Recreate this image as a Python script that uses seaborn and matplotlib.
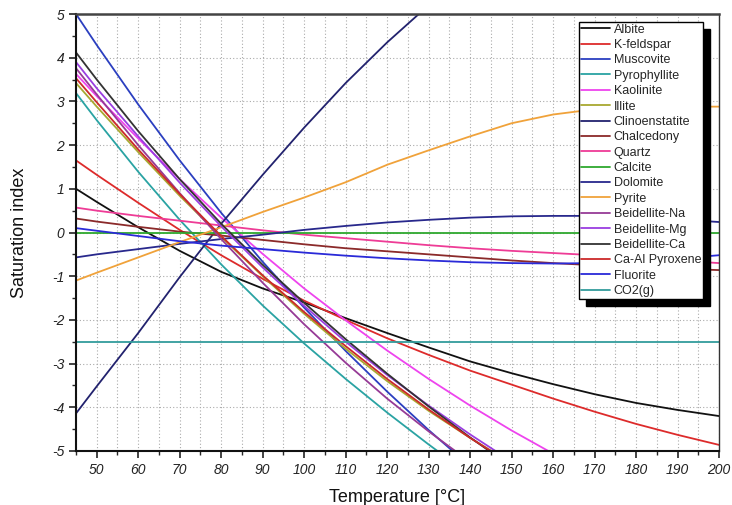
import numpy as np
import pandas as pd
import matplotlib
matplotlib.use("Agg")
import matplotlib.pyplot as plt
import seaborn as sns
from matplotlib.lines import Line2D
from matplotlib.ticker import MultipleLocator

nan = np.nan
temps = [45, 50, 60, 70, 80, 90, 100, 110, 120, 130, 140, 150, 160, 170, 180, 190, 200]

albite = [1.0, 0.7, 0.12, -0.42, -0.9, -1.28, -1.6, -1.96, -2.3, -2.63, -2.95, -3.22, -3.47, -3.7, -3.9, -4.06, -4.2]
k_feldspar = [1.65, 1.32, 0.68, 0.06, -0.52, -1.06, -1.56, -2.0, -2.42, -2.8, -3.16, -3.48, -3.8, -4.1, -4.38, -4.63, -4.86]
muscovite = [5.0, 4.29, 2.93, 1.65, 0.45, -0.67, -1.72, -2.71, -3.64, -4.52, -5.35, nan, nan, nan, nan, nan, nan]
pyrophyllite = [3.19, 2.57, 1.39, 0.29, -0.73, -1.67, -2.54, -3.35, -4.12, -4.85, -5.55, nan, nan, nan, nan, nan, nan]
kaolinite = [3.63, 3.12, 2.15, 1.22, 0.34, -0.49, -1.28, -2.01, -2.7, -3.35, -3.96, -4.53, -5.06, nan, nan, nan, nan]
illite = [3.42, 2.88, 1.84, 0.84, -0.1, -1.0, -1.86, -2.66, -3.4, -4.08, -4.7, -5.28, nan, nan, nan, nan, nan]
clinoenstatite = [-4.14, -3.52, -2.3, -1.02, 0.2, 1.32, 2.4, 3.42, 4.35, 5.2, nan, nan, nan, nan, nan, nan, nan]
chalcedony = [0.32, 0.25, 0.13, 0.02, -0.07, -0.17, -0.27, -0.36, -0.43, -0.5, -0.57, -0.64, -0.7, -0.75, -0.79, -0.83, -0.86]
quartz = [0.57, 0.5, 0.38, 0.27, 0.16, 0.05, -0.05, -0.13, -0.21, -0.29, -0.36, -0.42, -0.47, -0.52, -0.58, -0.64, -0.7]
calcite = [0.0] * 17
dolomite = [-0.57, -0.5, -0.38, -0.26, -0.15, -0.05, 0.06, 0.15, 0.23, 0.29, 0.34, 0.37, 0.38, 0.38, 0.35, 0.3, 0.24]
pyrite = [-1.1, -0.92, -0.57, -0.22, 0.12, 0.47, 0.8, 1.15, 1.55, 1.88, 2.2, 2.5, 2.7, 2.82, 2.87, 2.88, 2.88]
beidellite_na = [3.76, 3.16, 2.0, 0.9, -0.15, -1.15, -2.1, -2.98, -3.8, -4.55, -5.25, nan, nan, nan, nan, nan, nan]
beidellite_mg = [3.9, 3.3, 2.2, 1.14, 0.14, -0.8, -1.68, -2.5, -3.26, -3.96, -4.62, -5.24, nan, nan, nan, nan, nan]
beidellite_ca = [4.12, 3.5, 2.32, 1.22, 0.2, -0.74, -1.61, -2.44, -3.23, -3.98, -4.69, -5.36, nan, nan, nan, nan, nan]
ca_al_pyroxene = [3.53, 2.98, 1.9, 0.88, -0.08, -0.98, -1.82, -2.6, -3.35, -4.05, -4.7, -5.3, nan, nan, nan, nan, nan]
fluorite = [0.1, 0.04, -0.08, -0.2, -0.3, -0.38, -0.46, -0.53, -0.59, -0.64, -0.68, -0.7, -0.71, -0.7, -0.66, -0.6, -0.52]
co2_g = [-2.5] * 17

minerals = ["Albite", "K-feldspar", "Muscovite", "Pyrophyllite", "Kaolinite", "Illite",
            "Clinoenstatite", "Chalcedony", "Quartz", "Calcite", "Dolomite", "Pyrite",
            "Beidellite-Na", "Beidellite-Mg", "Beidellite-Ca", "Ca-Al Pyroxene",
            "Fluorite", "CO2(g)"]
series = [albite, k_feldspar, muscovite, pyrophyllite, kaolinite, illite,
          clinoenstatite, chalcedony, quartz, calcite, dolomite, pyrite,
          beidellite_na, beidellite_mg, beidellite_ca, ca_al_pyroxene,
          fluorite, co2_g]
colors = ["#111111", "#dd2b2b", "#2b3fc0", "#2aa3a3", "#ee44ee", "#a8a830",
          "#22226e", "#8b2a2a", "#ee3c96", "#2ea82e", "#28288c", "#f0a23a",
          "#963a96", "#9a3ee0", "#333333", "#cc2a2a", "#2a2ad8", "#339c9c"]

rows = []
for name, vals in zip(minerals, series):
    for t, v in zip(temps, vals):
        rows.append({"Temperature": t, "SI": v, "Mineral": name})
df = pd.DataFrame(rows).dropna()

sns.set_style("white")
plt.rcParams["font.family"] = ["Liberation Sans", "DejaVu Sans"]

fig = plt.figure(figsize=(7.32, 5.05), dpi=100)
ax = fig.add_axes([76 / 732, 1 - 451 / 505, 643 / 732, 437 / 505])

palette = dict(zip(minerals, colors))
sns.lineplot(data=df, x="Temperature", y="SI", hue="Mineral", hue_order=minerals,
             palette=palette, sort=True, legend=False, linewidth=1.3, ax=ax,
             estimator=None)

ax.set_xlim(45, 200)
ax.set_ylim(-5, 5)
ax.xaxis.set_major_locator(MultipleLocator(10))
ax.xaxis.set_minor_locator(MultipleLocator(5))
ax.yaxis.set_major_locator(MultipleLocator(1))
ax.yaxis.set_minor_locator(MultipleLocator(0.5))
ax.grid(True, which="major", axis="both", color="#aaaaaa", linestyle=(0, (1, 2)), linewidth=0.8)
ax.grid(True, which="minor", axis="x", color="#aaaaaa", linestyle=(0, (1, 2)), linewidth=0.8)
ax.set_axisbelow(True)

ax.tick_params(axis="both", which="major", direction="out", length=5, width=1.2,
               labelsize=10, colors="#222222", bottom=True, left=True)
ax.tick_params(axis="both", which="minor", direction="out", length=3, width=1.0,
               bottom=True, left=True)
ax.set_xticks(list(range(50, 201, 10)))
ax.set_xticklabels([str(v) for v in range(50, 201, 10)], fontstyle="italic")
ax.set_yticks(range(-5, 6))
ax.set_yticklabels([str(v) for v in range(-5, 6)], fontstyle="italic")

for side in ["left", "bottom"]:
    ax.spines[side].set_color("#111111")
    ax.spines[side].set_linewidth(1.5)
ax.spines["top"].set_color("#444444")
ax.spines["top"].set_linewidth(1.8)
ax.spines["right"].set_color("#333333")
ax.spines["right"].set_linewidth(1.0)

ax.set_xlabel("Temperature [°C]", fontsize=13, color="#111111")
ax.set_ylabel("Saturation index", fontsize=13, color="#111111")
ax.xaxis.set_label_coords(0.5, -0.088)
ax.yaxis.set_label_coords(-0.075, 0.5)

handles = [Line2D([0], [0], color=c, lw=1.3) for c in colors]
leg = ax.legend(handles, minerals, loc="upper right", bbox_to_anchor=(0.975, 0.982),
                borderaxespad=0, fontsize=9, handlelength=2.3, handletextpad=0.3,
                labelspacing=0.27, borderpad=0.15, fancybox=False, framealpha=1,
                edgecolor="black",
                shadow={"ox": 5, "oy": -5, "facecolor": "black", "edgecolor": "black", "alpha": 1})
leg.get_frame().set_linewidth(1.0)

fig.savefig("out.png", dpi=100, facecolor="white")
